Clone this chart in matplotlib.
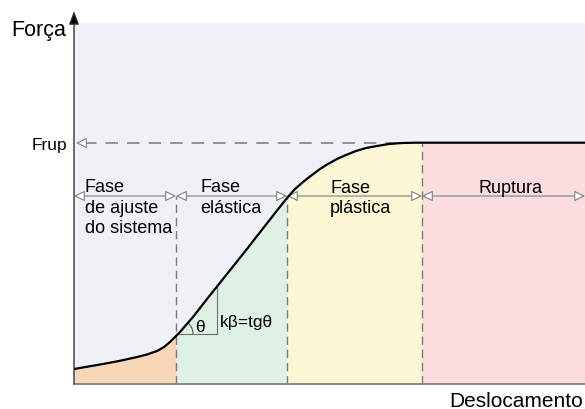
import numpy as np
import matplotlib
matplotlib.use("Agg")
import matplotlib.pyplot as plt
from matplotlib.patches import Rectangle, Arc

plt.rcParams['font.family'] = ['Liberation Sans', 'DejaVu Sans']
plt.rcParams['lines.scale_dashes'] = False

# ---- data (schematic force-displacement curve) ----
displacement = [0, 29, 45, 63, 73, 83, 90, 96, 101, 106, 112, 119, 133, 169, 196, 205, 213, 221,
                229, 238, 246, 254, 263, 272, 282, 292, 303, 315, 328, 342, 511]
force = [15, 20, 23, 27, 29.5, 33, 37, 42, 47, 52, 59, 67, 85, 130, 164.5, 176, 186, 195,
         202, 209, 215, 220, 225, 229, 233, 236, 238, 240, 241, 241.3, 241.3]
frup = 241
phase_bounds = [0, 102, 213, 348, 511]
phase_colors = ['#F7D7B8', '#DFF0E4', '#FBF7D4', '#FBDCDF']
phase_labels = [["Fase", "de ajuste", "do sistema"], ["Fase", "elástica"], ["Fase", "plástica"], ["Ruptura"]]
theta_x = [104, 143]
x_label = "Deslocamento"
y_label = "Força"
frup_label = "Frup"
slope_label = "kβ=tgθ"

W, H = 585, 410
fig = plt.figure(figsize=(W / 100, H / 100), dpi=100)
ax = fig.add_axes([74 / W, (H - 385) / H, (W - 74) / W, (385 - 12) / H])
ax.set_xlim(0, 511)
ax.set_ylim(0, 373)
ax.axis('off')

# background
ax.add_patch(Rectangle((0, 0), 511, 361, fc='#EEF2F6', ec='none', zorder=0))

# phase fills below the curve
for i in range(4):
    a, b = phase_bounds[i], phase_bounds[i + 1]
    xs = np.linspace(a, b, 300)
    ys = np.interp(xs, displacement, force)
    ax.fill_between(xs, 0, ys, color=phase_colors[i], lw=0, zorder=1)

# dividers
div_tops = [188, 188, frup]
for xb, top in zip(phase_bounds[1:4], div_tops):
    ax.plot([xb, xb], [0, top], color='#7a7a7a', lw=1.0, dashes=(6, 3.5), zorder=2)

# Frup dashed line
ax.plot([10, 323], [frup, frup], color='#8a8a8a', lw=1.3, dashes=(9, 6.5), zorder=2)
ax.annotate('', xy=(2, frup), xytext=(12, frup),
            arrowprops=dict(arrowstyle='-|>,head_length=0.65,head_width=0.32', mutation_scale=10,
                            fc='white', ec='#8a8a8a', lw=0.8, shrinkA=0, shrinkB=0), zorder=3)

# phase dimension arrows
y_arr = 188
for i in range(4):
    a, b = phase_bounds[i], phase_bounds[i + 1]
    ax.annotate('', xy=(b, y_arr), xytext=(a, y_arr),
                arrowprops=dict(arrowstyle='<|-|>,head_length=0.65,head_width=0.32', mutation_scale=10,
                                fc='white', ec='#808080', lw=0.8, shrinkA=0, shrinkB=0),
                zorder=3, annotation_clip=False)

# curve
ax.plot(displacement, force, color='black', lw=1.6, zorder=4, solid_joinstyle='round')

# theta triangle
y0 = np.interp(theta_x[0], displacement, force)
y1 = np.interp(theta_x[1], displacement, force)
ax.plot([theta_x[0], theta_x[1], theta_x[1]], [y0, y0, y1], color='#707070', lw=0.8, zorder=3)
ang = np.degrees(np.arctan2(y1 - y0, theta_x[1] - theta_x[0]))
ax.add_patch(Arc((theta_x[0], y0), 30, 30, theta1=0, theta2=ang, color='#555555', lw=0.8, zorder=3))
ax.text(121, 53, "θ", fontsize=12.5, ha='left', va='baseline', zorder=5)
ax.text(146, 58, slope_label, fontsize=12.5, ha='left', va='baseline', zorder=5)

# phase labels
fs = 13
for line, yb in zip(phase_labels[0], [193, 172, 152]):
    ax.text(11, yb, line, fontsize=fs, ha='left', va='baseline', zorder=5)
for line, yb in zip(phase_labels[1], [193, 172]):
    ax.text(126, yb, line, fontsize=fs, ha='left', va='baseline', zorder=5)
for line, yb in zip(phase_labels[2], [192, 172]):
    ax.text(256, yb, line, fontsize=fs, ha='left', va='baseline', zorder=5)
ax.text(436, 192, phase_labels[3][0], fontsize=fs, ha='center', va='baseline', zorder=5)

# axes
ax.plot([0, 511], [0, 0], color='#808080', lw=1.3, zorder=5, clip_on=False)
ax.annotate('', xy=(0, 373), xytext=(0, 0),
            arrowprops=dict(arrowstyle='-|>,head_length=0.8,head_width=0.3', mutation_scale=10,
                            fc='black', ec='#333333', lw=1.0, shrinkA=0, shrinkB=0),
            zorder=6, annotation_clip=False)

# axis labels
ax.text(-8, 349, y_label, fontsize=15.5, ha='right', va='baseline', clip_on=False)
ax.text(-7, 235, frup_label, fontsize=12.5, ha='right', va='baseline', clip_on=False)
ax.text(509, -22, x_label, fontsize=15, ha='right', va='baseline', clip_on=False)

fig.savefig('out.png', dpi=100)
